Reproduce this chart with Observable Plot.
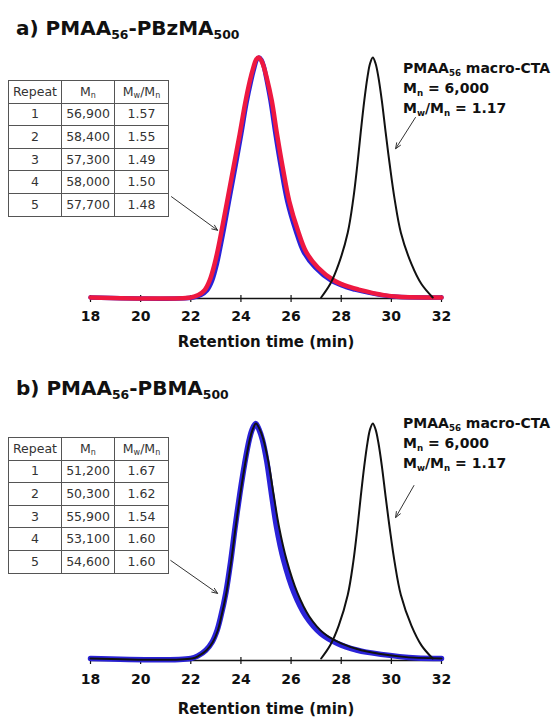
<!DOCTYPE html>
<html><head><meta charset="utf-8">
<script src="https://cdn.jsdelivr.net/npm/d3@7"></script>
<script src="https://cdn.jsdelivr.net/npm/@observablehq/plot@0.6"></script>
<style>
body{margin:0;background:#fff;}
#page{position:relative;width:555px;height:720px;overflow:hidden;background:#fff;}
.title{position:absolute;left:16px;font:bold 20px/20px "DejaVu Sans",sans-serif;color:#111;white-space:nowrap;}
.title sub,.note sub{font-size:0.62em;vertical-align:-0.3em;line-height:0;}
.plot{position:absolute;left:0;}
.note{position:absolute;left:403px;font:bold 14px/20px "DejaVu Sans",sans-serif;color:#111;white-space:nowrap;}
table.rep{position:absolute;left:8px;border-collapse:collapse;table-layout:fixed;width:160px;font:12.5px "DejaVu Sans",sans-serif;color:#333;background:#fff;}
table.rep td{border:1px solid #555;text-align:center;padding:0;line-height:14px;}
table.rep tr{height:22.6px;}
table.rep sub{font-size:8px;vertical-align:-2px;line-height:0;}
</style>
</head><body><div id="page"></div>
<script>
// ---- data ----
const xTicks = [18, 20, 22, 24, 26, 28, 30, 32];
const repeats = [1, 2, 3, 4, 5];
const mnA = ["56,900", "58,400", "57,300", "58,000", "57,700"];
const pdiA = ["1.57", "1.55", "1.49", "1.50", "1.48"];
const mnB = ["51,200", "50,300", "55,900", "53,100", "54,600"];
const pdiB = ["1.67", "1.62", "1.54", "1.60", "1.60"];

// panel a: PMAA56-PBzMA500 repeats (retention time, normalised RI signal)
const pbzmaBlue = [[18,0],[22.1,0],[22.4,0.01],[22.65,0.03],[22.85,0.07],[23.04,0.14],[23.18,0.21],[23.33,0.29],[23.52,0.40],[23.77,0.54],[24.01,0.68],[24.22,0.81],[24.4,0.9],[24.54,0.96],[24.63,0.99],[24.72,1.0],[24.82,0.99],[24.92,0.96],[25.0,0.92],[25.18,0.82],[25.38,0.68],[25.6,0.54],[25.85,0.40],[26.18,0.28],[26.5,0.19],[26.96,0.125],[27.6,0.07],[28.2,0.043],[28.55,0.033],[29.6,0.01],[30.2,0.003],[32,0]];
const pbzmaRed = [[18,0],[22.0,0],[22.3,0.01],[22.55,0.03],[22.75,0.07],[22.95,0.14],[23.1,0.21],[23.25,0.29],[23.45,0.40],[23.7,0.54],[23.95,0.68],[24.17,0.81],[24.35,0.9],[24.5,0.96],[24.6,0.99],[24.7,1.0],[24.8,0.99],[24.9,0.965],[25.02,0.92],[25.23,0.82],[25.44,0.68],[25.67,0.54],[25.93,0.40],[26.27,0.28],[26.6,0.19],[27.07,0.125],[27.73,0.07],[28.36,0.043],[28.7,0.033],[29.7,0.01],[30.3,0.003],[32,0]];
// panel b: PMAA56-PBMA500 repeats
const pbmaBlue = [[18,0],[22.0,0],[22.3,0.012],[22.6,0.035],[22.85,0.07],[23.05,0.12],[23.2,0.18],[23.4,0.28],[23.6,0.42],[23.77,0.56],[23.97,0.71],[24.15,0.83],[24.33,0.93],[24.45,0.975],[24.59,1.0],[24.72,0.975],[24.86,0.93],[25.03,0.84],[25.22,0.70],[25.42,0.56],[25.7,0.42],[26.12,0.28],[26.59,0.18],[27.19,0.106],[27.85,0.064],[28.65,0.035],[29.0,0.027],[30.33,0.008],[31,0.002],[32,0]];
const pbmaBlack = [[18,0],[22.05,0],[22.33,0.012],[22.63,0.035],[22.88,0.07],[23.08,0.12],[23.22,0.18],[23.42,0.28],[23.62,0.42],[23.79,0.56],[23.99,0.71],[24.17,0.83],[24.35,0.93],[24.47,0.975],[24.6,1.0],[24.75,0.975],[24.9,0.93],[25.09,0.84],[25.3,0.70],[25.52,0.56],[25.82,0.42],[26.25,0.28],[26.72,0.18],[27.32,0.106],[28.0,0.064],[28.8,0.035],[30.4,0.008],[32,0]];
// PMAA56 macro-CTA
const macroCTA = [[27.2,0],[27.56,0.056],[27.9,0.14],[28.26,0.27],[28.48,0.41],[28.64,0.55],[28.78,0.69],[28.92,0.82],[29.05,0.92],[29.15,0.975],[29.26,1.0],[29.37,0.975],[29.48,0.92],[29.62,0.82],[29.77,0.69],[29.94,0.55],[30.13,0.41],[30.38,0.27],[30.8,0.14],[31.2,0.056],[31.65,0]];
// annotation arrows (retention time, signal)
const arrowsA = [{x1:21.23,y1:0.42,x2:23.07,y2:0.28},{x1:30.96,y1:0.75,x2:30.17,y2:0.62}];
const arrowsB = [{x1:21.2,y1:0.417,x2:23.07,y2:0.277},{x1:30.9,y1:0.736,x2:30.17,y2:0.60}];
const xLabel = "Retention time (min)";

const page = document.getElementById("page");

function addHTML(html){ const d=document.createElement("div"); d.innerHTML=html; const el=d.firstElementChild; page.appendChild(el); return el; }

function table(top, mn, pdi){
  let h = `<table class="rep" style="top:${top}px"><colgroup><col style="width:53px"><col style="width:53px"><col style="width:54px"></colgroup>`;
  h += `<tr><td>Repeat</td><td>M<sub>n</sub></td><td>M<sub>w</sub>/M<sub>n</sub></td></tr>`;
  repeats.forEach((r,i)=>{ h += `<tr><td>${r}</td><td>${mn[i]}</td><td>${pdi[i]}</td></tr>`; });
  h += `</table>`;
  addHTML(h);
}

function panel({top, height, mt, mb, series, arrows, tickPad, ruleDy, labelDy}){
  const marks = [
    Plot.ruleY([0], {stroke:"#111", strokeWidth:1.5, dy:ruleDy}),
    Plot.ruleX(xTicks, {x:d=>d, y1:0, y2:0, insetTop:-3, insetBottom:-4, dy:ruleDy, stroke:"#111", strokeWidth:1.2}),
    Plot.axisX({ticks:xTicks, tickSize:0, tickPadding:tickPad + 5, tickFormat:d=>String(d), fontSize:14, fontWeight:"bold", fill:"#111", label:null}),
    ...series.map(s => Plot.line(s.data, {x:d=>d[0], y:d=>d[1], stroke:s.color, strokeWidth:s.w, curve:"catmull-rom"})),
    Plot.arrow(arrows, {x1:"x1", y1:"y1", x2:"x2", y2:"y2", stroke:"#333", strokeWidth:1, headLength:9, headAngle:45}),
    Plot.text([xLabel], {frameAnchor:"bottom", dy:labelDy, text:d=>d, fontSize:15, fontWeight:"bold", fill:"#111", lineAnchor:"middle"})
  ];
  const svg = Plot.plot({
    width:555, height, marginLeft:90, marginRight:114, marginTop:mt, marginBottom:mb,
    x:{domain:[18,32]}, y:{type:"linear", domain:[0,1], axis:null},
    style:{fontFamily:"DejaVu Sans, sans-serif", background:"transparent", overflow:"visible"},
    marks
  });
  svg.classList.add("plot");
  svg.style.top = top + "px";
  page.appendChild(svg);
}

// Panel a
panel({top:40, height:320, mt:17, mb:63, tickPad:9, ruleDy:1, labelDy:45,
  series:[{data:pbzmaBlue, color:"#2a22d8", w:4.5},{data:pbzmaRed, color:"#ee1840", w:4.5},{data:macroCTA, color:"#111", w:2}],
  arrows:arrowsA});
// Panel b
panel({top:400, height:320, mt:23, mb:62, tickPad:11, ruleDy:2, labelDy:51,
  series:[{data:pbmaBlue, color:"#2a22d8", w:5.5},{data:pbmaBlack, color:"#111", w:2},{data:macroCTA, color:"#111", w:2}],
  arrows:arrowsB});

addHTML(`<div class="title" style="top:18px">a) PMAA<sub>56</sub>-PBzMA<sub>500</sub></div>`);
addHTML(`<div class="title" style="top:378px">b) PMAA<sub>56</sub>-PBMA<sub>500</sub></div>`);
table(80, mnA, pdiA);
table(437, mnB, pdiB);
addHTML(`<div class="note" style="top:58px">PMAA<sub>56</sub> macro-CTA<br>M<sub>n</sub> = 6,000<br>M<sub>w</sub>/M<sub>n</sub> = 1.17</div>`);
addHTML(`<div class="note" style="top:413px">PMAA<sub>56</sub> macro-CTA<br>M<sub>n</sub> = 6,000<br>M<sub>w</sub>/M<sub>n</sub> = 1.17</div>`);
</script></body></html>
